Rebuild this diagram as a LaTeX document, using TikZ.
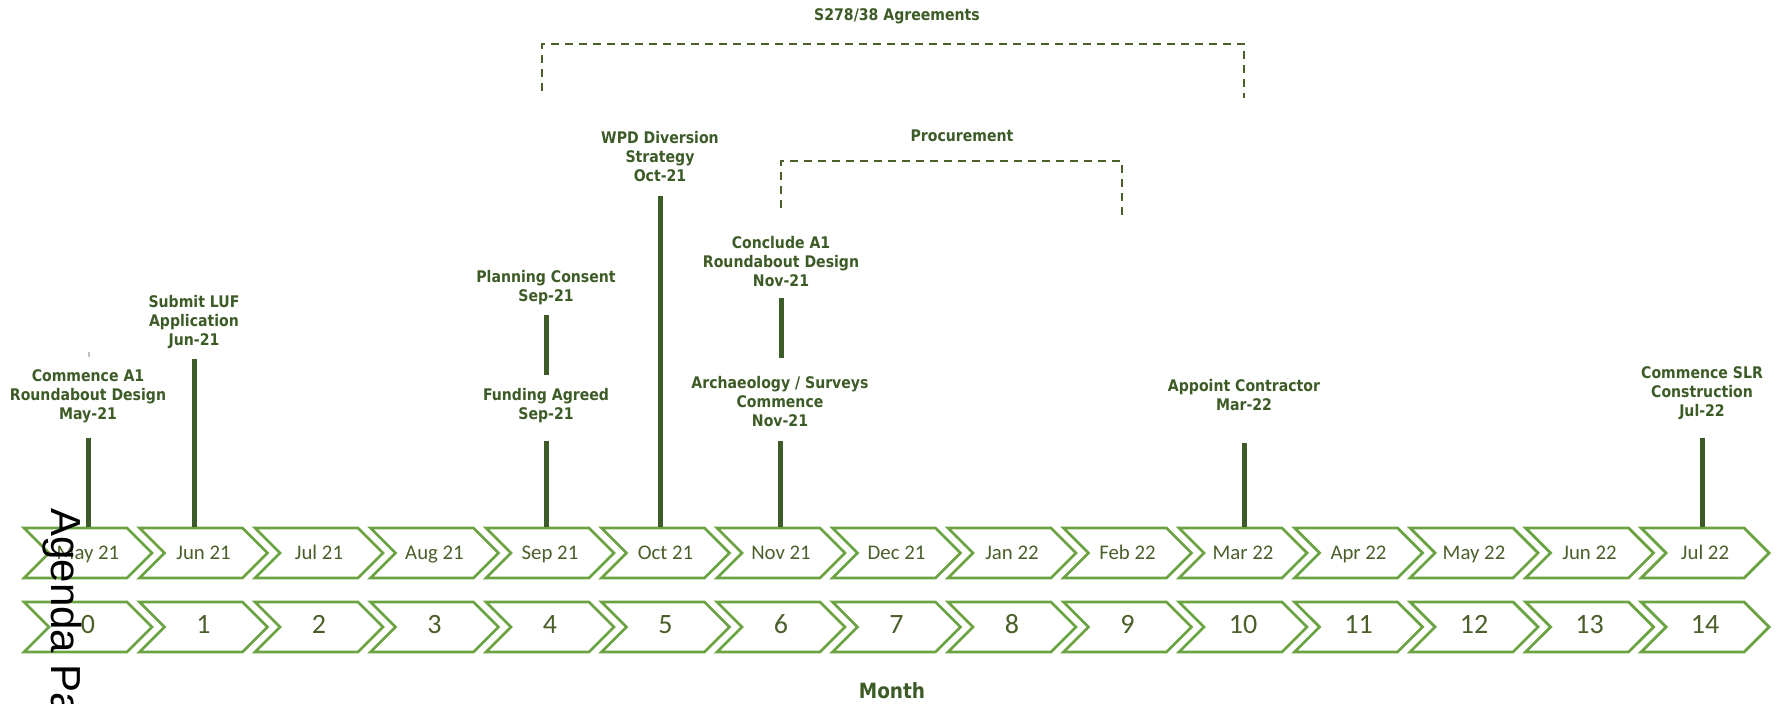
\documentclass[tikz,border=0pt]{standalone}
\usepackage{fontspec}
\usepackage{xcolor}
\usetikzlibrary{shapes.symbols}
\newfontfamily\lblfont{DejaVu Sans}[FakeStretch=0.88]
\newfontfamily\chevfont{Carlito}
\newfontfamily\pagefont{Liberation Sans}
\definecolor{leafline}{HTML}{6CA342}
\definecolor{mossink}{HTML}{3D5B27}
\definecolor{barkink}{HTML}{4B5F2A}

\begin{document}
\begin{tikzpicture}[
  x=0.5pt, y=-0.5pt,
  chev/.style={signal, signal from=west, signal to=east, signal pointer angle=90,
    draw=leafline, line width=1.4pt, fill=white, minimum width=64pt,
    minimum height=25pt, inner sep=0pt, text=barkink, text height=0.64em, text depth=0pt},
  month/.style={chev, font=\chevfont\fontsize{10.4}{12}\selectfont},
  count/.style={chev, font=\chevfont\fontsize{14}{16}\selectfont},
  lbl/.style={anchor=south, inner sep=0pt, align=center, text=mossink, text depth=0pt,
    font=\lblfont\bfseries\fontsize{8}{9.5}\selectfont},
  stem/.style={draw=mossink, line width=2.5pt},
  bracket/.style={draw=barkink, line width=1.1pt, dash pattern=on 4pt off 3pt}
]
\useasboundingbox (0,0) rectangle (1777,704);

% month and count chevrons
\foreach \m [count=\i from 0] in {May 21, Jun 21, Jul 21, Aug 21, Sep 21, Oct 21, Nov 21,
    Dec 21, Jan 22, Feb 22, Mar 22, Apr 22, May 22, Jun 22, Jul 22} {
  \node[month] (m\i) at ({88+115.5*\i},553) {\m};
  \node[count] (n\i) at ({88+115.5*\i},627) {\i};
}

% spans
\node[lbl] (s278) at (897,21) {S278/38 Agreements};
\draw[bracket] (542,91) |- (1244,44) -- (1244,98);
\node[lbl] (proc) at (962,142) {Procurement};
\draw[bracket] (781,208) |- (1122,161) -- (1122,215);

% milestones
\node[lbl] (may) at (88,420) {Commence A1\\Roundabout Design\\May-21};
\node[lbl] (jun) at (194,346) {Submit LUF\\Application\\Jun-21};
\node[lbl] (plan) at (546,302) {Planning Consent\\Sep-21};
\node[lbl] (fund) at (546,420) {Funding Agreed\\Sep-21};
\node[lbl] (wpd) at (660,182) {WPD Diversion\\Strategy\\Oct-21};
\node[lbl] (concl) at (781,287) {Conclude A1\\Roundabout Design\\Nov-21};
\node[lbl] (arch) at (780,427) {Archaeology / Surveys\\Commence\\Nov-21};
\node[lbl] (appt) at (1244,411) {Appoint Contractor\\Mar-22};
\node[lbl] (slr) at (1702,417) {Commence SLR\\Construction\\Jul-22};

\draw[gray!50, line width=0.6pt] (89,352) -- (89,357);
\draw[stem] (may.south) ++(0,18) -- (may.south |- m0.north);
\draw[stem] (jun.south) ++(0,13) -- (jun.south |- m1.north);
\draw[stem] (plan.south) ++(0,13) -- ++(0,60);
\draw[stem] (fund.south) ++(0,21) -- (fund.south |- m4.north);
\draw[stem] (wpd.south) ++(0,14) -- (wpd.south |- m5.north);
\draw[stem] (concl.south) ++(0,11) -- ++(0,60);
\draw[stem] (arch.south) ++(0,14) -- (arch.south |- m6.north);
\draw[stem] (appt.south) ++(0,32) -- (appt.south |- m10.north);
\draw[stem] (slr.south) ++(0,21) -- (slr.south |- m14.north);

\node[lbl, font=\lblfont\bfseries\fontsize{10.5}{12}\selectfont] (axis) at (892,699) {Month};

\node[anchor=base west, rotate=-90, inner sep=0pt,
  font=\pagefont\fontsize{21}{25}\selectfont] (agenda) at (51,508) {Agenda Pa};
\end{tikzpicture}
\end{document}
